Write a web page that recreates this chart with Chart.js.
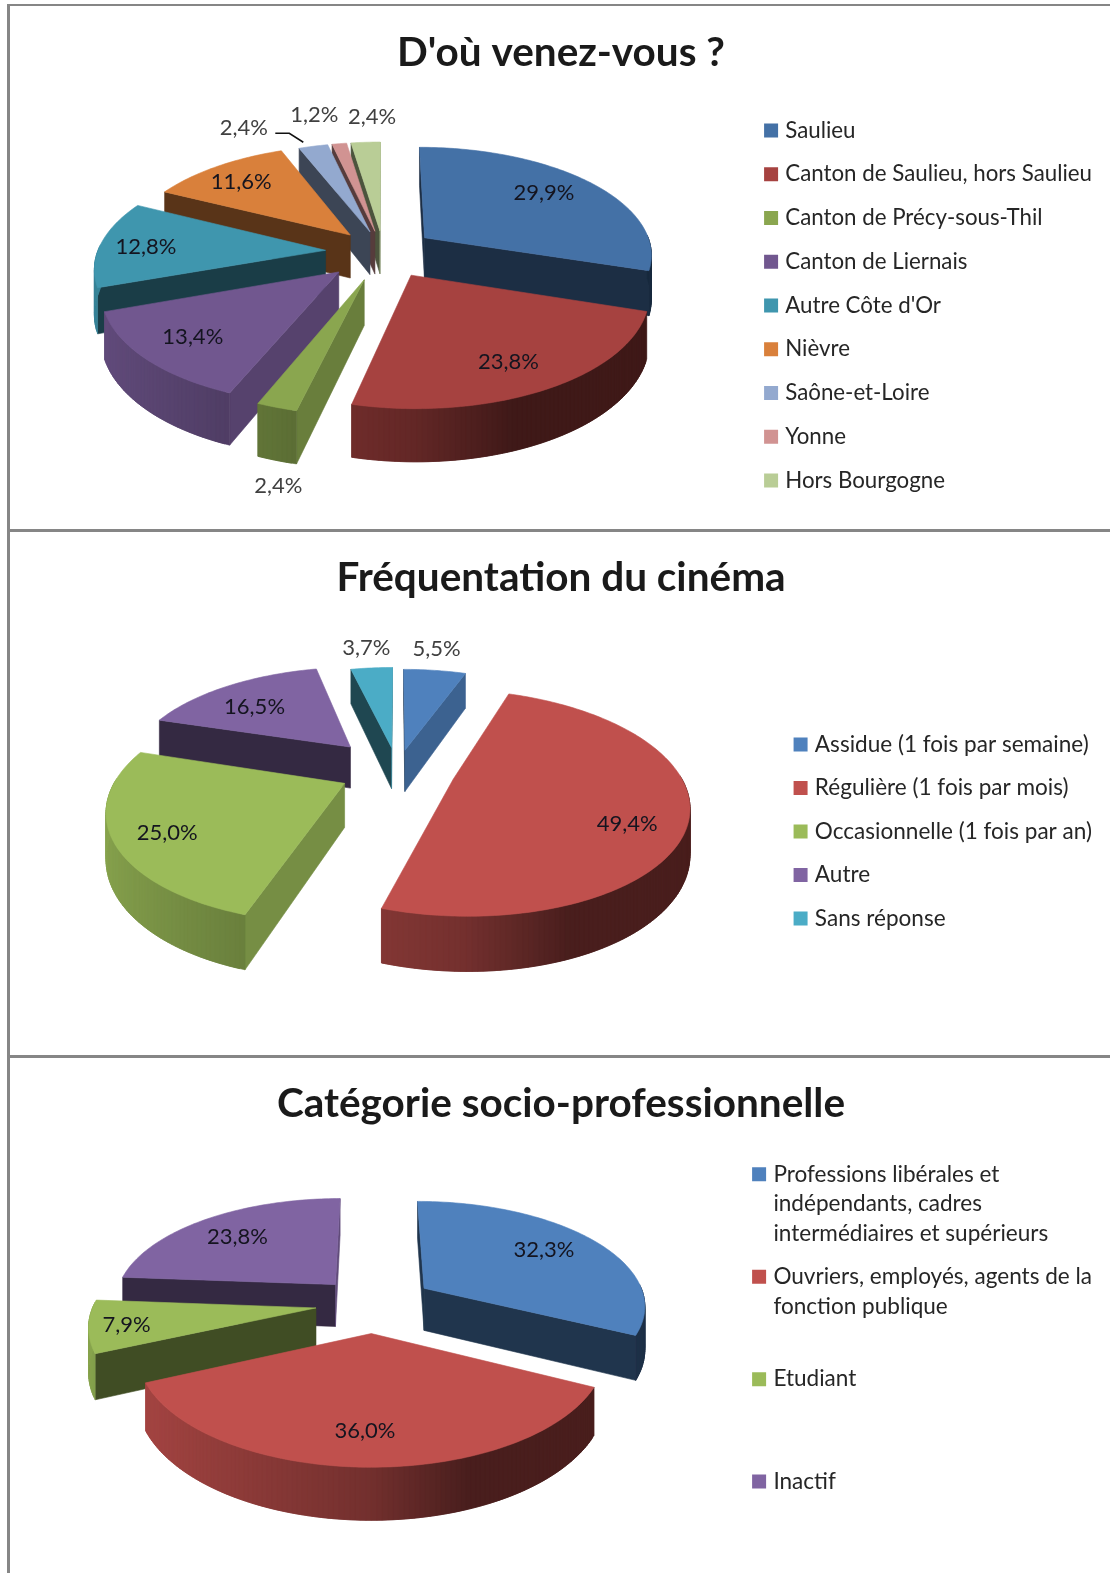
<!DOCTYPE html>
<html>
<head>
<meta charset="utf-8">
<script src="https://cdn.jsdelivr.net/npm/chart.js@4"></script>
<style>
html, body { margin: 0; padding: 0; background: #fff; width: 1110px; height: 1573px; overflow: hidden; }
.line { position: absolute; background: #868686; }
canvas { position: absolute; left: 10px; }
</style>
</head>
<body>
<div class="line" style="left:7px;top:4px;width:3px;height:1569px"></div>
<div class="line" style="left:7px;top:4px;width:1103px;height:2px"></div>
<div class="line" style="left:7px;top:529px;width:1103px;height:3px"></div>
<div class="line" style="left:7px;top:1055px;width:1103px;height:3px"></div>
<canvas id="c1" style="top:7px"></canvas>
<canvas id="c2" style="top:532px"></canvas>
<canvas id="c3" style="top:1058px"></canvas>
<script>
const categories1 = ['Saulieu', 'Canton de Saulieu, hors Saulieu', 'Canton de Précy-sous-Thil', 'Canton de Liernais', "Autre Côte d'Or", 'Nièvre', 'Saône-et-Loire', 'Yonne', 'Hors Bourgogne'];
const values1 = [29.9, 23.8, 2.4, 13.4, 12.8, 11.6, 2.4, 1.2, 2.4];
const colors1 = ['#4471a6', '#a64240', '#8aa64f', '#71578f', '#3f96ae', '#d9803b', '#93a9cf', '#d19392', '#b9cd96'];

const categories2 = ['Assidue (1 fois par semaine)', 'Régulière (1 fois par mois)', 'Occasionnelle (1 fois par an)', 'Autre', 'Sans réponse'];
const values2 = [5.5, 49.4, 25.0, 16.5, 3.7];
const colors2 = ['#4f81bd', '#c0504d', '#9bbb59', '#8064a2', '#4bacc6'];

const categories3 = [
  ['Professions libérales et', 'indépendants, cadres', 'intermédiaires et supérieurs'],
  ['Ouvriers, employés, agents de la', 'fonction publique', ''],
  ['Etudiant', '', ''],
  ['Inactif', '', ''],
];
const values3 = [32.3, 36.0, 7.9, 23.8];
const colors3 = ['#4f81bd', '#c0504d', '#9bbb59', '#8064a2'];

function shade(hex, f) {
  const n = parseInt(hex.slice(1), 16);
  const r = Math.round((n >> 16 & 255) * f);
  const g = Math.round((n >> 8 & 255) * f);
  const b = Math.round((n & 255) * f);
  return `rgb(${r},${g},${b})`;
}

// outer wall gets lighter towards the left
function wallShade(nu) {
  if (nu < 0) return 0.6 - nu * 0.28;
  return Math.max(0.38, 0.6 - nu * 0.6);
}

// flat pie to a tilted disc, v goes towards the viewer
function project(p, u, v, h) {
  const s = p.persp / (p.persp - v);
  return [p.ax + u * s, p.ay + (v * p.tilt + h) * s];
}

function fillPoly(ctx, pts, color) {
  ctx.beginPath();
  pts.forEach((q, i) => (i ? ctx.lineTo(q[0], q[1]) : ctx.moveTo(q[0], q[1])));
  ctx.closePath();
  ctx.fillStyle = color;
  ctx.strokeStyle = color;
  ctx.lineWidth = 0.6;
  ctx.fill();
  ctx.stroke();
}

const pie3d = {
  id: 'pie3d',
  beforeDatasetDraw() {
    return false;
  },
  afterDatasetsDraw(chart, args, opts) {
    const ctx = chart.ctx;
    const arcs = chart.getDatasetMeta(0).data;
    const colors = chart.data.datasets[0].backgroundColor;
    const p = { ...opts, ax: arcs[0].x + opts.dx, ay: arcs[0].y + opts.dy };
    const slices = arcs.map((arc, i) => {
      const mid = (arc.startAngle + arc.endAngle) / 2;
      const off = arc.options.offset || 0;
      return { i, arc, mid, ou: Math.cos(mid) * off, ov: Math.sin(mid) * off };
    });
    // back to front
    const order = slices.slice().sort((a, b) => (a.ov + Math.sin(a.mid) * 120) - (b.ov + Math.sin(b.mid) * 120));
    order.forEach((sl) => {
      const { arc, ou, ov } = sl;
      const color = colors[sl.i];
      const R = arc.outerRadius;
      const start = arc.startAngle;
      const end = arc.endAngle;
      const steps = Math.max(2, Math.ceil((end - start) / 0.02));
      const pts = [];
      for (let k = 0; k <= steps; k++) {
        const a = start + (end - start) * k / steps;
        pts.push([a, ou + Math.cos(a) * R, ov + Math.sin(a) * R]);
      }
      const apexTop = project(p, ou, ov, 0);
      const apexLow = project(p, ou, ov, p.depth);
      // cut faces
      [[start, Math.sin(start), -Math.cos(start), pts[0]], [end, -Math.sin(end), Math.cos(end), pts[steps]]].forEach((f) => {
        if (f[2] < -0.02) return;
        const f1 = f[1] > 0.5 ? 0.76 : 0.41;
        fillPoly(ctx, [apexTop, project(p, f[3][1], f[3][2], 0), project(p, f[3][1], f[3][2], p.depth), apexLow], shade(color, f1));
      });
      // outer wall, each strip runs over the next one so no seams show
      for (let k = 0; k < steps; k++) {
        if (Math.sin(pts[k][0]) < -0.02 && Math.sin(pts[k + 1][0]) < -0.02) continue;
        const a = pts[k];
        const b = pts[Math.min(k + 2, steps)];
        fillPoly(ctx, [project(p, a[1], a[2], 0), project(p, b[1], b[2], 0), project(p, b[1], b[2], p.depth), project(p, a[1], a[2], p.depth)], shade(color, wallShade(Math.cos(a[0]))));
      }
      // top
      fillPoly(ctx, [apexTop].concat(pts.map((q) => project(p, q[1], q[2], 0))), color);
    });
    // data labels
    ctx.font = '22px Lato';
    ctx.textAlign = 'center';
    ctx.textBaseline = 'middle';
    slices.forEach((sl) => {
      const place = opts.place[sl.i];
      const a = sl.mid + place[1] * Math.PI / 180;
      const r = sl.arc.outerRadius * place[0];
      const q = project(p, sl.ou + Math.cos(a) * r, sl.ov + Math.sin(a) * r, 0);
      const v = chart.data.datasets[0].data[sl.i];
      ctx.fillStyle = place[0] > 1 ? '#404040' : '#14141f';
      ctx.fillText(v.toFixed(1).replace('.', ',') + '%', q[0] + place[2], q[1] + place[3]);
    });
    // leader of the Saône-et-Loire label
    if (opts.leader) {
      const sl = slices[opts.leader];
      const a = project(p, sl.ou + Math.cos(sl.mid) * sl.arc.outerRadius, sl.ov + Math.sin(sl.mid) * sl.arc.outerRadius, 0);
      ctx.beginPath();
      ctx.moveTo(a[0] - 10, a[1] - 4);
      ctx.lineTo(a[0] - 24, a[1] - 13);
      ctx.lineTo(a[0] - 38, a[1] - 13);
      ctx.strokeStyle = '#111';
      ctx.lineWidth = 1.6;
      ctx.stroke();
    }
  },
};

function makePie(id, height, title, labels, values, colors, offsets, radius, legendOpts, pad, pie) {
  const canvas = document.getElementById(id);
  canvas.width = 1106;
  canvas.height = height;
  return new Chart(canvas.getContext('2d'), {
    type: 'pie',
    plugins: [pie3d],
    data: {
      labels,
      // slices are painted by pie3d, the border only thickens the legend box
      datasets: [{ data: values, backgroundColor: colors, borderColor: colors, offset: offsets, borderWidth: 8 }],
    },
    options: {
      responsive: false,
      animation: false,
      events: [],
      radius,
      layout: { padding: pad },
      plugins: {
        tooltip: { enabled: false },
        title: {
          display: true,
          text: title,
          color: '#1a1a1a',
          font: { family: 'Lato', size: 40.5, weight: 'bold' },
          padding: { top: 22, bottom: legendOpts.titleGap },
        },
        legend: {
          position: 'right',
          fullSize: false,
          labels: {
            color: '#262626',
            font: { family: 'Lato', size: legendOpts.size, lineHeight: 1.32 },
            boxWidth: 6,
            boxHeight: 6,
            padding: legendOpts.padding,
          },
        },
        pie3d: pie,
      },
    },
  });
}

makePie('c1', 522, "D'où venez-vous ?", categories1, values1, colors1,
  [52, 55, 60, 60, 58, 50, 46, 46, 46], 228, { size: 22.3, padding: 21.45, titleGap: 4.5 }, { left: 10, right: 14 }, {
    dx: 0, dy: -53.6, tilt: 0.47, persp: 1600, depth: 44, leader: 6,
    place: [[0.62, 10, 1, -18], [0.6, 0, 20, 22], [1.25, 0, 28, 40], [0.6, 0, -35, 15], [0.62, 0, -40, 1], [0.7, 0, -13, -4], [1.3, -12, -6, -5], [1.3, 0, -16, -6], [1.3, 0, 10, -3]],
  });

makePie('c2', 526, 'Fréquentation du cinéma', categories2, values2, colors2,
  [46, 58, 58, 72, 52], 225, { size: 22.55, padding: 21, titleGap: 2.4 }, { left: 10, right: 14 }, {
    dx: -1, dy: -61, tilt: 0.466, persp: 1100, depth: 43,
    place: [[1.2, 0, -3, -9], [0.8, -30, 2, 61], [0.7, -20, -49, -14], [0.7, 0, -7, 4], [1.2, 0, -2, -7]],
  });

makePie('c3', 515, 'Catégorie socio-professionnelle', categories3, values3, colors3,
  [62, 62, 57, 56], 222, { size: 22.55, padding: 13.1, titleGap: 21 }, { left: 10, right: 14 }, {
    dx: -9, dy: -58, tilt: 0.468, persp: 1500, depth: 43,
    place: [[0.65, 10, -5, -15], [0.65, 0, -3, 16], [0.75, 0, -20, 3], [0.65, 0, -11, -4]],
  });
</script>
</body>
</html>
